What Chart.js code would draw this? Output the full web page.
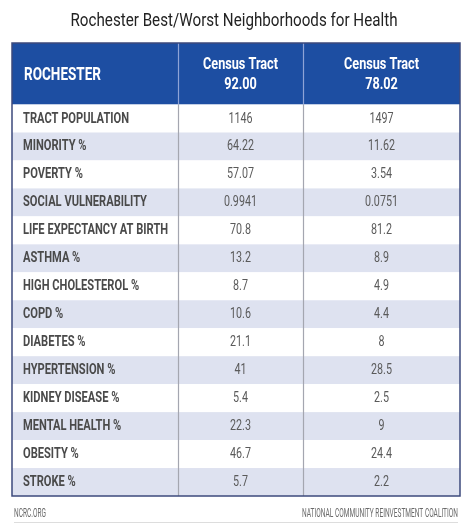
<!DOCTYPE html>
<html>
<head>
<meta charset="utf-8">
<script src="https://cdn.jsdelivr.net/npm/chart.js@4.4.1/dist/chart.umd.min.js"></script>
<style>
  html, body { margin: 0; padding: 0; background: #fff; }
  #wrap { width: 470px; height: 526px; position: relative; }
</style>
</head>
<body>
<div id="wrap"><canvas id="tableChart"></canvas></div>
<script>
const title = 'Rochester Best/Worst Neighborhoods for Health';
const cornerLabel = 'ROCHESTER';
const columnLabels = [['Census Tract', '92.00'], ['Census Tract', '78.02']];
const rowLabels = [
    'TRACT POPULATION', 'MINORITY %', 'POVERTY %', 'SOCIAL VULNERABILITY',
    'LIFE EXPECTANCY AT BIRTH', 'ASTHMA %', 'HIGH CHOLESTEROL %', 'COPD %',
    'DIABETES %', 'HYPERTENSION %', 'KIDNEY DISEASE %', 'MENTAL HEALTH %',
    'OBESITY %', 'STROKE %'
];
const tract9200 = ['1146', '64.22', '57.07', '0.9941', '70.8', '13.2', '8.7', '10.6', '21.1', '41', '5.4', '22.3', '46.7', '5.7'];
const tract7802 = ['1497', '11.62', '3.54', '0.0751', '81.2', '8.9', '4.9', '4.4', '8', '28.5', '2.5', '9', '24.4', '2.2'];
const footLeft = 'NCRC.ORG';
const footRight = 'NATIONAL COMMUNITY REINVESTMENT COALITION';

// column edges in x-axis units, header height in row units
const colEdges = [0, 166, 291, 448];
const headerRows = 2.2;

const FONT = "Roboto, 'DejaVu Sans Condensed', sans-serif";
const BLUE = '#1d4ea2';
const STRIPE = '#dee2f0';
const BORDER = '#3d4a7c';

// condensed look: squeeze a font horizontally so a sample string gets a given width
function styleFor(ctx, font, sample, width) {
    ctx.font = font;
    return { font: font, sx: width / ctx.measureText(sample).width };
}

function drawText(ctx, st, text, x, y, align, color) {
    ctx.save();
    ctx.font = st.font;
    ctx.fillStyle = color;
    ctx.textAlign = align;
    ctx.textBaseline = 'middle';
    ctx.translate(x, y);
    ctx.scale(st.sx, 1);
    ctx.fillText(text, 0, 0);
    ctx.restore();
}

const tablePlugin = {
    id: 'tableCells',
    beforeDatasetsDraw(chart) {
        const ctx = chart.ctx;
        const x = chart.scales.x;
        const y = chart.scales.y;
        const left = x.getPixelForValue(colEdges[0]);
        const right = x.getPixelForValue(colEdges[colEdges.length - 1]);
        const bottom = y.getPixelForValue(rowLabels.length);

        const sTitle = styleFor(ctx, '19px ' + FONT, title, 327);
        const sCorner = styleFor(ctx, 'bold 19px ' + FONT, cornerLabel, 77);
        const sHead = styleFor(ctx, 'bold 17px ' + FONT, 'Census Tract', 75);
        const sLabel = styleFor(ctx, 'bold 14px ' + FONT, 'SOCIAL VULNERABILITY', 124);
        const sValue = styleFor(ctx, '14px ' + FONT, '0.9941', 33);
        const sFoot = styleFor(ctx, '13.5px ' + FONT, footRight, 156);

        // header band
        const hTop = y.getPixelForValue(-headerRows);
        const hBot = y.getPixelForValue(0);
        ctx.save();
        ctx.fillStyle = BLUE;
        ctx.fillRect(left, hTop, right - left, hBot - hTop);

        // body stripes
        rowLabels.forEach((_, i) => {
            const top = y.getPixelForValue(i);
            const bot = y.getPixelForValue(i + 1);
            ctx.fillStyle = i % 2 === 1 ? STRIPE : '#ffffff';
            ctx.fillRect(left, top, right - left, bot - top);
        });

        // column dividers
        for (let c = 1; c < colEdges.length - 1; c++) {
            const px = Math.round(x.getPixelForValue(colEdges[c])) + 0.5;
            ctx.lineWidth = 1.2;
            ctx.strokeStyle = '#8ea3d6';
            ctx.beginPath();
            ctx.moveTo(px, hTop);
            ctx.lineTo(px, hBot);
            ctx.stroke();
            ctx.strokeStyle = '#a4a6b0';
            ctx.beginPath();
            ctx.moveTo(px, hBot);
            ctx.lineTo(px, bottom);
            ctx.stroke();
        }

        // outer border
        ctx.strokeStyle = BORDER;
        ctx.lineWidth = 1.5;
        ctx.strokeRect(left, hTop, right - left, bottom - hTop);
        ctx.restore();

        // header text
        const hMid = y.getPixelForValue(-headerRows / 2);
        drawText(ctx, sCorner, cornerLabel, left + 12, hMid + 1, 'left', '#ffffff');
        columnLabels.forEach((lines, c) => {
            const cx = x.getPixelForValue((colEdges[c + 1] + colEdges[c + 2]) / 2);
            drawText(ctx, sHead, lines[0], cx, hMid - 9, 'center', '#ffffff');
            drawText(ctx, sHead, lines[1], cx, hMid + 10.5, 'center', '#ffffff');
        });

        // body text
        rowLabels.forEach((label, i) => {
            const cy = y.getPixelForValue(i + 0.5) + 0.5;
            drawText(ctx, sLabel, label, left + 11, cy, 'left', '#4a4a4a');
            [tract9200, tract7802].forEach((vals, c) => {
                const cx = x.getPixelForValue((colEdges[c + 1] + colEdges[c + 2]) / 2);
                drawText(ctx, sValue, vals[i], cx, cy, 'center', '#5a5a5a');
            });
        });

        // title and footer
        drawText(ctx, sTitle, title, chart.width / 2 - 1, 21.5, 'center', '#222222');
        drawText(ctx, sFoot, footLeft, left + 2, 514, 'left', '#6a6a6a');
        drawText(ctx, sFoot, footRight, right - 2, 514, 'right', '#6a6a6a');
        ctx.save();
        ctx.strokeStyle = '#dddddd';
        ctx.lineWidth = 1;
        ctx.beginPath();
        ctx.moveTo(left + 2, 522.5);
        ctx.lineTo(right - 2, 522.5);
        ctx.stroke();
        ctx.restore();
    }
};

new Chart(document.getElementById('tableChart'), {
    type: 'scatter',
    data: { datasets: [{ data: [], pointRadius: 0 }] },
    options: {
        responsive: true,
        maintainAspectRatio: false,
        animation: false,
        events: [],
        layout: { padding: { left: 12, right: 10, top: 43, bottom: 30 } },
        plugins: { legend: { display: false }, tooltip: { enabled: false } },
        scales: {
            x: { type: 'linear', min: colEdges[0], max: colEdges[colEdges.length - 1], display: false },
            y: { type: 'linear', reverse: true, min: -headerRows, max: rowLabels.length, display: false }
        }
    },
    plugins: [tablePlugin]
});
</script>
</body>
</html>
